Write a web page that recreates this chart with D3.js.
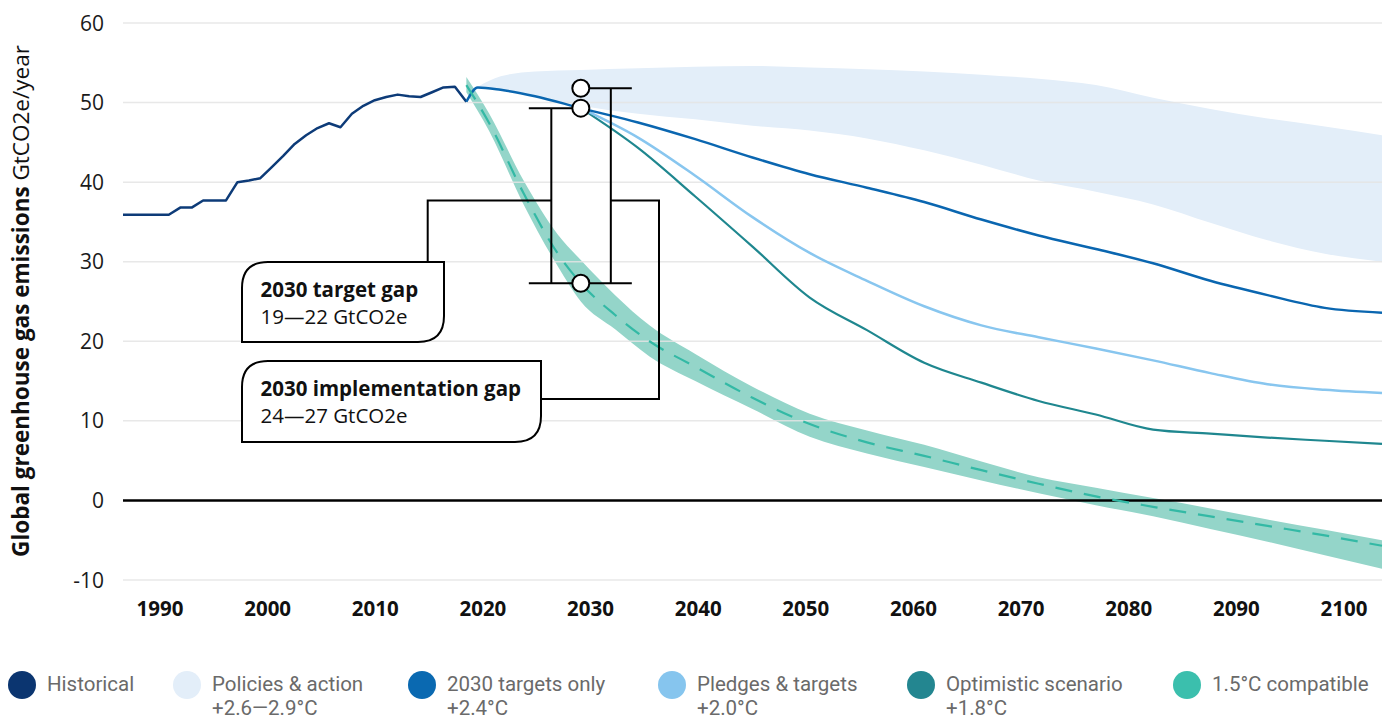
<!DOCTYPE html>
<html>
<head>
<meta charset="utf-8">
<script src="https://cdn.jsdelivr.net/npm/d3@7"></script>
<style>
  body { margin: 0; background: #fff; }
  svg { display: block; font-family: "Open Sans", sans-serif; }
</style>
</head>
<body>
<svg width="1400" height="720"></svg>
<script>
// ---- data ----
var histYears = [1990,1991,1992,1993,1994,1995,1996,1997,1998,1999,2000,2001,2002,2003,2004,2005,2006,2007,2008,2009,2010,2011,2012,2013,2014,2015,2016,2017,2018,2019,2020];
var histValues = [35.9,35.9,35.9,35.9,35.9,36.8,36.8,37.7,37.7,37.7,40.0,40.2,40.5,41.9,43.3,44.8,45.9,46.8,47.4,46.9,48.6,49.6,50.3,50.7,51.0,50.8,50.7,51.3,51.9,52.0,50.1];

var targetsYears = [2020,2021,2023,2026,2030,2035,2040,2045,2050,2055,2060,2065,2070,2075,2080,2085,2090,2095,2100];
var targetsValues = [50.1,51.9,51.6,50.8,49.3,47.5,45.4,43.1,41.0,39.3,37.5,35.3,33.3,31.6,29.8,27.6,25.8,24.2,23.6];

var pledgesYears = [2030,2035,2040,2045,2050,2055,2060,2065,2070,2075,2080,2085,2090,2095,2100];
var pledgesValues = [49.3,45.6,40.8,35.6,31.1,27.6,24.4,22.0,20.5,19.1,17.6,16.0,14.6,13.9,13.5];

var optimisticYears = [2030,2035,2040,2045,2050,2055,2060,2065,2070,2075,2080,2085,2090,2095,2100];
var optimisticValues = [49.3,44.3,38.2,31.9,25.5,21.4,17.3,14.8,12.5,10.8,8.9,8.4,7.9,7.5,7.1];

var policiesYears = [2021,2023,2026,2030,2035,2040,2045,2050,2055,2060,2065,2070,2075,2080,2085,2090,2095,2100];
var policiesLow = [51.9,51.6,50.8,49.6,48.6,47.9,47.1,46.5,45.5,44.0,42.2,40.2,38.8,37.2,34.9,32.7,31.0,30.0];
var policiesHigh = [52.0,53.3,53.9,54.1,54.3,54.5,54.6,54.4,54.2,53.9,53.5,53.0,52.2,50.6,49.2,48.0,47.0,45.9];

var c15Years = [2020,2022,2025,2028,2030,2033,2036,2040,2045,2050,2055,2060,2065,2070,2075,2080,2085,2090,2095,2100];
var c15Low = [51.3,46.4,37.2,29.4,25.0,21.5,18.1,15.0,11.5,8.0,5.9,4.2,2.5,0.9,-0.6,-2.0,-3.6,-5.2,-6.9,-8.6];
var c15Mid = [52.2,47.4,38.6,31.0,27.3,23.3,20.0,16.8,12.9,9.6,7.3,5.6,3.8,2.1,0.5,-0.8,-2.0,-3.2,-4.4,-5.7];
var c15High = [53.2,48.6,40.2,33.4,30.2,25.8,22.0,18.4,14.3,10.9,8.8,7.0,4.9,2.9,1.6,0.3,-1.0,-2.4,-3.7,-5.0];

var gapYear = 2030;
var implGapTop = 51.8, targetGapTop = 49.3, gapBottom = 27.3;

var yTicks = [-10, 0, 10, 20, 30, 40, 50, 60];
var xTickLabels = ["1990","2000","2010","2020","2030","2040","2050","2060","2070","2080","2090","2100"];

var legendNames = ["Historical", "Policies & action", "2030 targets only", "Pledges & targets", "Optimistic scenario", "1.5°C compatible"];
var legendSubs = ["", "+2.6—2.9°C", "+2.4°C", "+2.0°C", "+1.8°C", ""];
var legendColors = ["#0b3570", "#e3eef9", "#0a69b1", "#86c5ee", "#238690", "#3bbfad"];
var legendX = [22, 187, 422, 672, 921, 1187];

// ---- chart ----
var svg = d3.select("svg");
var x = d3.scaleLinear().domain([1990, 2100]).range([123, 1382]);
var y = d3.scaleLinear().domain([-10, 60]).range([580, 23]);
var xLab = d3.scalePoint().domain(xTickLabels).range([160, 1344]);

var band = d3.area()
    .x(function(d) { return x(d[0]); })
    .y0(function(d) { return y(d[1]); })
    .y1(function(d) { return y(d[2]); })
    .curve(d3.curveMonotoneX);

var line = d3.line()
    .x(function(d) { return x(d[0]); })
    .y(function(d) { return y(d[1]); })
    .curve(d3.curveMonotoneX);

svg.append("path")
    .attr("d", band(d3.zip(policiesYears, policiesLow, policiesHigh)))
    .attr("fill", "#e3eef9");

svg.append("path")
    .attr("d", band(d3.zip(c15Years, c15Low, c15High)))
    .attr("fill", "#94d5c9");

// gridlines sit over the bands
svg.append("g").selectAll("line")
    .data(yTicks.filter(function(v) { return v !== 0; }))
    .enter().append("line")
    .attr("x1", x.range()[0]).attr("x2", x.range()[1])
    .attr("y1", function(d) { return y(d); })
    .attr("y2", function(d) { return y(d); })
    .attr("stroke", "#e4e4e4")
    .attr("stroke-opacity", 0.85)
    .attr("stroke-width", 1.5);

svg.append("line")
    .attr("x1", x.range()[0]).attr("x2", x.range()[1])
    .attr("y1", y(0)).attr("y2", y(0))
    .attr("stroke", "#000").attr("stroke-width", 2.5);

svg.append("g").selectAll("text")
    .data(yTicks)
    .enter().append("text")
    .attr("x", 104)
    .attr("y", function(d) { return y(d); })
    .attr("dy", "0.36em")
    .attr("text-anchor", "end")
    .attr("font-size", 21)
    .attr("fill", "#1a1a1a")
    .text(function(d) { return d; });

svg.append("g").selectAll("text")
    .data(xTickLabels)
    .enter().append("text")
    .attr("x", function(d) { return xLab(d); })
    .attr("y", 616)
    .attr("text-anchor", "middle")
    .attr("font-size", 20.5)
    .attr("font-weight", 700)
    .attr("fill", "#111")
    .text(function(d) { return d; });

var ytitle = svg.append("text")
    .attr("transform", "translate(29,301) rotate(-90)")
    .attr("text-anchor", "middle")
    .attr("font-size", 22.5)
    .attr("fill", "#111");
ytitle.append("tspan").attr("font-weight", 700).text("Global greenhouse gas emissions");
ytitle.append("tspan").attr("font-weight", 400).text(" GtCO2e/year");

// series lines
svg.append("path")
    .attr("d", d3.line().x(function(d) { return x(d[0]); }).y(function(d) { return y(d[1]); })(d3.zip(histYears, histValues)))
    .attr("fill", "none").attr("stroke", "#0d3b78").attr("stroke-width", 2.5)
    .attr("stroke-linejoin", "round");

svg.append("path")
    .attr("d", line(d3.zip(optimisticYears, optimisticValues)))
    .attr("fill", "none").attr("stroke", "#1f878f").attr("stroke-width", 2.2);

svg.append("path")
    .attr("d", line(d3.zip(pledgesYears, pledgesValues)))
    .attr("fill", "none").attr("stroke", "#88c6ef").attr("stroke-width", 2.5);

svg.append("path")
    .attr("d", line(d3.zip(targetsYears, targetsValues)))
    .attr("fill", "none").attr("stroke", "#0a66b0").attr("stroke-width", 2.5);

svg.append("path")
    .attr("d", line(d3.zip(c15Years, c15Mid)))
    .attr("fill", "none").attr("stroke", "#33b9a5").attr("stroke-width", 2.2)
    .attr("stroke-dasharray", "17,12");

// gap brackets
var gx = x(gapYear), yT = y(implGapTop), yM = y(targetGapTop), yB = y(gapBottom);
var leaderY = y(37.7);
var ann = svg.append("g").attr("fill", "none").attr("stroke", "#000").attr("stroke-width", 2);
// target gap (left bracket)
ann.append("path").attr("d",
    "M" + (gx - 52) + "," + yM + "H" + gx +
    "M" + (gx - 29.5) + "," + yM + "V" + yB +
    "M" + (gx - 52) + "," + yB + "H" + (gx + 51));
// implementation gap (right bracket)
ann.append("path").attr("d",
    "M" + gx + "," + yT + "H" + (gx + 51) +
    "M" + (gx + 30) + "," + yT + "V" + yB);
// leaders to the boxes
ann.append("path").attr("d",
    "M" + (gx - 29.5) + "," + leaderY + "H427.7V262");
ann.append("path").attr("d",
    "M" + (gx + 30) + "," + leaderY + "H659V399H541");

svg.append("g").selectAll("circle")
    .data([implGapTop, targetGapTop, gapBottom])
    .enter().append("circle")
    .attr("cx", gx)
    .attr("cy", function(d) { return y(d); })
    .attr("r", 8.5)
    .attr("fill", "#fff").attr("stroke", "#000").attr("stroke-width", 2);

function boxPath(l, t, r, b, rad) {
  return "M" + l + "," + (t + rad) + "Q" + l + "," + t + " " + (l + rad) + "," + t +
         "H" + r + "V" + (b - rad) + "Q" + r + "," + b + " " + (r - rad) + "," + b +
         "H" + l + "Z";
}

var boxes = [
  {l: 242, t: 262, r: 444, b: 342, title: "2030 target gap", sub: "19—22 GtCO2e"},
  {l: 242, t: 361, r: 541, b: 442, title: "2030 implementation gap", sub: "24—27 GtCO2e"}
];
boxes.forEach(function(bx) {
  svg.append("path")
      .attr("d", boxPath(bx.l, bx.t, bx.r, bx.b, 26))
      .attr("fill", "#fff").attr("stroke", "#000").attr("stroke-width", 2);
  var t = svg.append("text")
      .attr("x", bx.l + 18.5).attr("y", bx.t + 35)
      .attr("font-size", 20.5).attr("fill", "#111");
  t.append("tspan").attr("font-weight", 700).text(bx.title);
  t.append("tspan").attr("x", bx.l + 18.5).attr("dy", 27).text(bx.sub);
});

// legend
var leg = svg.append("g").selectAll("g")
    .data(legendNames)
    .enter().append("g")
    .attr("transform", function(d, i) { return "translate(" + legendX[i] + ",685)"; });
leg.append("circle")
    .attr("r", 14)
    .attr("fill", function(d, i) { return legendColors[i]; });
var legText = leg.append("text")
    .attr("x", 25).attr("y", 6)
    .attr("font-family", "Roboto, sans-serif")
    .attr("font-size", 20.5).attr("fill", "#6a6a6a");
legText.append("tspan").text(function(d) { return d; });
legText.append("tspan")
    .attr("x", 25).attr("dy", 24)
    .text(function(d, i) { return legendSubs[i]; });
</script>
</body>
</html>
